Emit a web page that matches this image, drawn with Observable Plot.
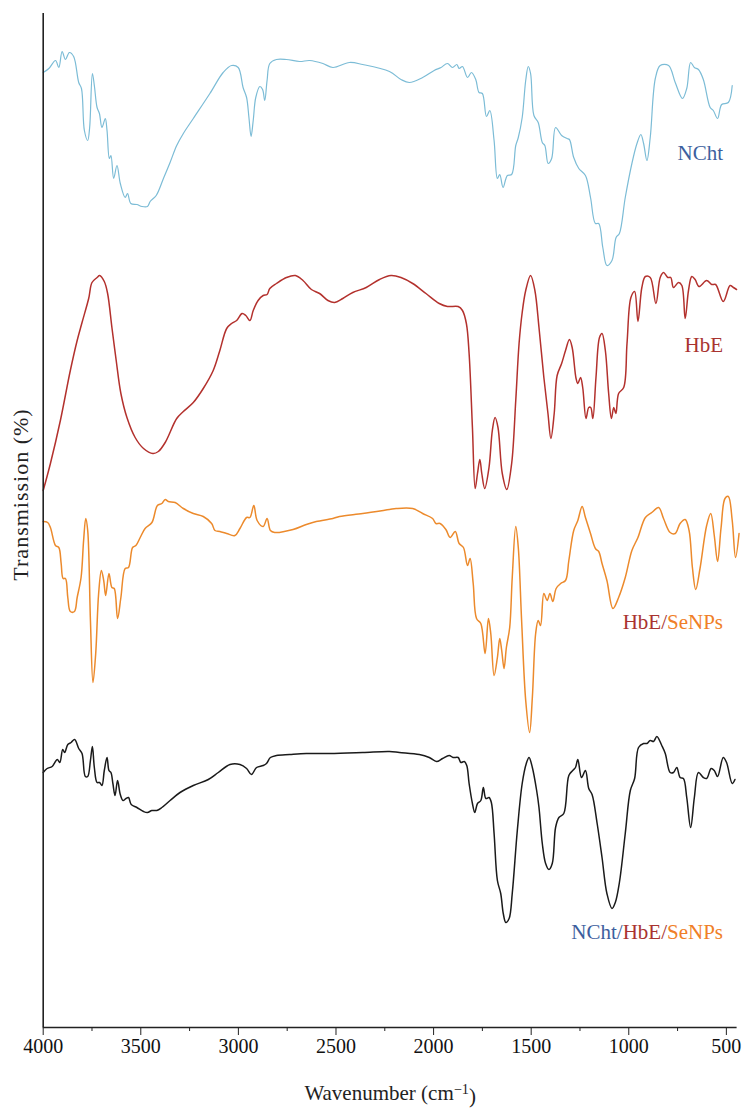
<!DOCTYPE html>
<html><head><meta charset="utf-8">
<script src="https://cdn.jsdelivr.net/npm/d3@7"></script>
<script src="https://cdn.jsdelivr.net/npm/@observablehq/plot@0.6"></script>
<style>body{margin:0;background:#fff;} svg{display:block;} svg text{font-family:'Liberation Serif','Times New Roman',serif !important;}</style>
</head><body><div id="chart"></div>
<script>
// [wavenumber (cm-1), transmission (offset, arbitrary %)]
const nchtSpectrum = [[4000,95.3],[3971,95.7],[3937,96.5],[3920,95.8],[3903,97.4],[3886,96.6],[3866,97.3],[3844,96.9],[3818,94.3],[3804,93.7],[3789,89.5],[3772,88.5],[3762,89.8],[3748,95.2],[3738,94.0],[3724,91.8],[3712,91.2],[3699,89.8],[3682,90.7],[3673,89.5],[3661,86.7],[3653,87.0],[3639,84.7],[3622,86.0],[3605,84.2],[3580,82.8],[3568,83.2],[3551,82.2],[3520,82.1],[3494,81.9],[3466,81.9],[3452,82.4],[3421,83.0],[3384,84.7],[3350,86.3],[3316,88.0],[3282,89.2],[3231,90.7],[3146,93.2],[3078,95.3],[3035,96.0],[3001,95.8],[2976,93.8],[2958,92.8],[2946,90.8],[2935,88.9],[2924,90.5],[2911,92.8],[2890,93.9],[2876,93.6],[2865,92.5],[2853,94.5],[2839,96.2],[2805,96.6],[2754,96.6],[2686,96.4],[2635,96.5],[2567,96.2],[2516,95.8],[2431,96.3],[2363,96.1],[2226,95.4],[2167,94.6],[2124,94.3],[2056,94.8],[1997,95.5],[1962,95.8],[1929,96.2],[1903,95.8],[1881,96.1],[1869,95.7],[1852,95.9],[1826,94.8],[1806,95.3],[1784,94.6],[1767,93.3],[1750,93.2],[1729,90.9],[1712,91.5],[1690,88.5],[1673,84.7],[1661,85.1],[1644,83.8],[1622,85.0],[1600,85.1],[1579,88.0],[1566,88.8],[1546,90.8],[1528,94.5],[1515,95.9],[1503,95.2],[1486,91.0],[1464,90.3],[1443,88.3],[1430,88.0],[1413,86.2],[1395,86.7],[1375,89.8],[1344,89.0],[1316,88.7],[1304,88.6],[1282,86.8],[1256,85.7],[1222,85.0],[1196,82.8],[1171,80.2],[1154,80.2],[1133,77.8],[1112,76.0],[1086,76.5],[1065,78.8],[1048,79.2],[1018,82.8],[984,86.2],[958,88.2],[938,89.1],[924,88.2],[907,86.5],[890,88.8],[864,94.7],[839,96.0],[796,96.0],[762,94.3],[725,92.7],[703,93.7],[683,96.3],[664,95.8],[643,95.6],[618,94.6],[583,91.8],[567,91.5],[545,90.7],[524,92.1],[490,92.3],[470,94.0]];

const hbeSpectrum = [[4000,53.5],[3963,56.2],[3912,60.5],[3861,65.5],[3826,68.5],[3801,70.3],[3767,72.7],[3750,74.3],[3724,74.8],[3711,75.0],[3687,74.4],[3670,73.2],[3648,69.8],[3626,66.5],[3602,63.2],[3571,60.8],[3529,58.8],[3486,57.7],[3438,57.2],[3410,57.4],[3375,58.3],[3316,60.7],[3282,61.4],[3231,62.3],[3180,63.7],[3129,65.5],[3095,67.5],[3060,69.7],[3035,70.2],[3009,70.5],[2981,71.2],[2962,71.0],[2941,70.5],[2924,71.5],[2899,72.5],[2873,73.0],[2853,73.1],[2839,73.7],[2805,74.2],[2754,74.8],[2708,75.0],[2669,74.5],[2626,73.6],[2584,73.2],[2541,72.5],[2507,72.3],[2465,72.7],[2414,73.3],[2345,73.8],[2277,74.6],[2218,75.0],[2167,74.8],[2107,74.2],[2039,73.2],[1971,72.2],[1929,71.9],[1874,71.9],[1852,71.5],[1832,70.2],[1818,67.2],[1801,59.8],[1787,53.7],[1775,55.2],[1763,56.6],[1753,55.2],[1738,53.7],[1716,55.8],[1699,59.5],[1685,60.8],[1670,59.8],[1648,55.2],[1625,53.6],[1600,56.2],[1579,62.5],[1562,68.2],[1546,71.3],[1528,73.5],[1503,75.0],[1481,73.5],[1460,69.8],[1435,64.8],[1414,61.2],[1399,58.7],[1382,61.2],[1367,65.0],[1344,66.2],[1324,67.5],[1304,68.6],[1290,67.8],[1270,64.7],[1261,64.2],[1247,64.8],[1236,63.8],[1219,60.7],[1205,61.8],[1195,61.8],[1184,60.7],[1168,64.8],[1150,68.8],[1137,69.2],[1120,67.5],[1103,63.2],[1089,60.7],[1077,61.8],[1066,61.2],[1052,63.2],[1026,63.8],[1009,68.2],[989,72.8],[970,73.4],[953,70.4],[933,73.8],[915,74.9],[890,74.8],[861,72.2],[839,74.8],[822,75.3],[800,74.8],[785,74.8],[771,73.8],[745,74.3],[728,74.0],[711,70.7],[694,73.5],[677,74.9],[660,74.6],[640,73.9],[601,74.5],[575,74.1],[555,74.1],[516,72.4],[481,74.0],[464,73.8],[448,73.6]];

const hbeSeNPsSpectrum = [[4000,50.4],[3977,50.3],[3963,49.8],[3937,48.0],[3920,47.8],[3908,46.2],[3898,44.7],[3886,44.7],[3874,42.8],[3861,41.4],[3840,41.4],[3826,42.8],[3806,44.8],[3793,48.5],[3782,50.7],[3772,49.5],[3758,40.5],[3745,34.3],[3731,37.2],[3716,43.2],[3702,45.5],[3690,44.5],[3680,43.0],[3663,45.2],[3648,43.8],[3636,43.7],[3619,40.7],[3602,42.8],[3580,45.7],[3563,45.8],[3542,47.8],[3525,48.0],[3503,48.8],[3478,49.7],[3443,50.3],[3415,52.0],[3392,52.2],[3375,52.6],[3359,52.4],[3324,52.3],[3282,51.7],[3231,51.2],[3180,50.9],[3137,50.2],[3120,49.5],[3095,49.4],[3060,49.2],[3018,49.0],[2992,49.7],[2958,50.8],[2941,50.8],[2921,52.0],[2904,50.5],[2873,49.9],[2853,50.7],[2836,49.5],[2814,49.3],[2720,49.6],[2652,50.1],[2601,50.4],[2516,50.7],[2482,50.9],[2363,51.2],[2226,51.6],[2192,51.7],[2107,51.7],[2056,51.2],[2005,50.7],[1988,50.2],[1967,50.2],[1937,49.6],[1915,48.8],[1889,49.4],[1869,48.2],[1847,47.8],[1826,46.0],[1813,46.7],[1797,44.2],[1780,40.7],[1758,40.2],[1736,37.2],[1719,40.7],[1707,39.2],[1690,35.0],[1673,36.8],[1661,38.7],[1651,37.5],[1639,35.7],[1627,37.8],[1610,39.8],[1597,44.8],[1579,49.9],[1566,47.8],[1549,40.5],[1528,32.5],[1508,29.3],[1494,32.8],[1477,39.2],[1464,40.5],[1452,40.0],[1435,43.2],[1418,42.5],[1404,43.2],[1389,42.4],[1372,43.7],[1349,44.2],[1324,44.5],[1307,46.5],[1282,49.5],[1261,50.5],[1239,51.9],[1222,50.8],[1196,49.2],[1171,47.7],[1154,47.4],[1137,46.2],[1112,44.5],[1081,41.7],[1052,42.8],[1018,44.8],[984,47.5],[953,48.8],[915,50.8],[882,51.3],[847,51.8],[822,50.7],[788,49.3],[762,49.2],[737,50.2],[711,50.6],[691,49.5],[674,45.8],[657,43.6],[635,45.7],[601,50.0],[580,51.2],[562,49.0],[545,46.4],[527,49.8],[507,52.7],[490,52.9],[470,50.5],[453,46.8],[435,49.2]];

const compositeSpectrum = [[4000,25.3],[3980,25.7],[3954,25.9],[3928,26.6],[3915,26.3],[3900,27.6],[3890,27.3],[3874,28.1],[3857,28.3],[3839,28.6],[3818,27.7],[3801,27.2],[3784,24.9],[3772,24.9],[3758,26.5],[3748,27.9],[3738,25.8],[3724,24.3],[3711,24.3],[3699,24.0],[3687,25.5],[3673,26.8],[3663,25.5],[3653,25.3],[3643,24.2],[3632,23.0],[3619,24.5],[3605,23.1],[3591,22.5],[3576,22.7],[3563,22.8],[3549,22.1],[3520,21.8],[3486,21.4],[3466,21.3],[3443,21.5],[3418,21.5],[3392,21.8],[3350,22.5],[3299,23.3],[3231,24.0],[3154,24.6],[3103,25.3],[3043,26.1],[2992,26.1],[2958,25.7],[2933,25.1],[2907,25.8],[2873,26.0],[2856,26.2],[2836,26.8],[2805,27.0],[2737,27.1],[2652,27.2],[2533,27.2],[2363,27.3],[2226,27.4],[2175,27.3],[2073,27.1],[2022,26.8],[1985,26.4],[1954,26.7],[1920,27.0],[1900,26.8],[1874,26.8],[1860,26.3],[1843,26.4],[1830,26.0],[1818,24.2],[1801,22.2],[1789,21.3],[1775,22.2],[1758,22.5],[1745,23.8],[1732,22.7],[1716,22.8],[1704,22.3],[1690,19.2],[1673,14.5],[1656,13.2],[1643,11.2],[1630,10.3],[1613,10.7],[1597,13.2],[1571,19.5],[1546,24.2],[1525,26.2],[1511,26.8],[1494,25.8],[1472,23.5],[1460,21.8],[1443,18.2],[1426,16.2],[1409,15.6],[1392,16.2],[1375,19.8],[1358,20.8],[1333,21.2],[1307,25.0],[1287,25.5],[1273,25.8],[1261,26.6],[1242,24.8],[1222,25.5],[1205,23.7],[1188,23.1],[1162,20.2],[1137,16.8],[1112,13.2],[1086,11.7],[1069,12.3],[1048,14.3],[1018,19.2],[992,23.5],[970,24.7],[950,27.8],[924,28.2],[907,28.2],[890,28.5],[873,28.4],[856,28.9],[831,28.0],[813,27.2],[788,25.3],[771,25.3],[754,25.8],[737,24.8],[720,24.7],[703,22.8],[683,19.8],[664,22.8],[643,25.3],[618,24.8],[601,24.7],[578,25.7],[562,25.5],[545,24.9],[516,26.8],[499,26.3],[470,24.2],[456,24.6]];

const seriesNames = ["NCht", "HbE", "HbE/SeNPs", "NCht/HbE/SeNPs"];
const seriesColors = ["#7cbcd6", "#b3312d", "#ec8a2c", "#1a1a1a"];
const componentColors = {NCht: "#3d5f9e", HbE: "#a93330", SeNPs: "#f07f28"};
// label anchor (right end) in data units
const labelWavenumbers = [517, 517, 517, 517];
const labelTransmissions = [87.2, 68.0, 40.3, 9.3];

const majorTicks = [4000, 3500, 3000, 2500, 2000, 1500, 1000, 500];
const minorTicks = [3750, 3250, 2750, 2250, 1750, 1250, 750];
const xDomain = [4000, 445];
const yDomain = [-0.2, 101.2];
const xTitle = "Wavenumber (cm-1)";
const yTitle = "Transmission (%)";

const spectra = [nchtSpectrum, hbeSpectrum, hbeSeNPsSpectrum, compositeSpectrum];
const labels = seriesNames.map((s, i) => ({series: s, w: labelWavenumbers[i], t: labelTransmissions[i]}));

const font = "'Liberation Serif', 'Times New Roman', serif";

const chart = Plot.plot({
  width: 743,
  height: 1108,
  marginLeft: 42.7,
  marginRight: 6.4,
  marginTop: 13,
  marginBottom: 81,
  style: {fontFamily: font, fontSize: "20px", background: "#fff", color: "#000"},
  x: {domain: xDomain},
  y: {domain: yDomain, axis: null},
  marks: [
    ...spectra.map((data, i) => Plot.line(data, {
      x: d => d[0], y: d => d[1],
      stroke: seriesColors[i], strokeWidth: i === 0 ? 1.2 : 1.5,
      curve: "catmull-rom"
    })),
    Plot.ruleX([xDomain[0]], {stroke: "#222", strokeWidth: 1.6}),
    Plot.ruleY([yDomain[0]], {stroke: "#222", strokeWidth: 1.6}),
    Plot.axisX({ticks: majorTicks, tickSize: 8, tickPadding: 3, tickFormat: d => String(d), fontSize: 20, label: null, stroke: "#222", fill: "#111"}),
    Plot.axisX({ticks: minorTicks, tickSize: 4, tickFormat: () => "", label: null, stroke: "#222"}),
    Plot.text([xTitle], {frameAnchor: "bottom", lineAnchor: "middle", textAnchor: "middle", dy: 66, fontSize: 21, fill: "#222"}),
    Plot.text([yTitle], {frameAnchor: "left", textAnchor: "middle", lineAnchor: "middle", rotate: -90, dx: -22.7, dy: -26, fontSize: 22, fill: "#222"}),
    Plot.text(labels, {x: "w", y: "t", text: "series", textAnchor: "end", lineAnchor: "middle", fontSize: 21})
  ]
});

// fonts, coloured label parts and the superscript
d3.select(chart).selectAll("text").each(function() {
  const el = d3.select(this);
  el.attr("font-family", font);
  const txt = this.textContent;
  if (seriesNames.includes(txt)) {
    const parts = txt.split("/");
    el.text(null);
    parts.forEach((p, k) => {
      el.append("tspan").attr("fill", componentColors[p]).text(p + (k < parts.length - 1 ? "/" : ""));
    });
  } else if (txt === xTitle) {
    el.text(null);
    el.append("tspan").text("Wavenumber (cm");
    el.append("tspan").attr("dy", "-0.45em").attr("font-size", "0.68em").text("\u22121");
    el.append("tspan").attr("dy", "0.45em").text(")");
  } else if (txt === yTitle) {
    el.attr("letter-spacing", "1px");
  }
});

document.getElementById("chart").appendChild(chart);
</script>
</body></html>
